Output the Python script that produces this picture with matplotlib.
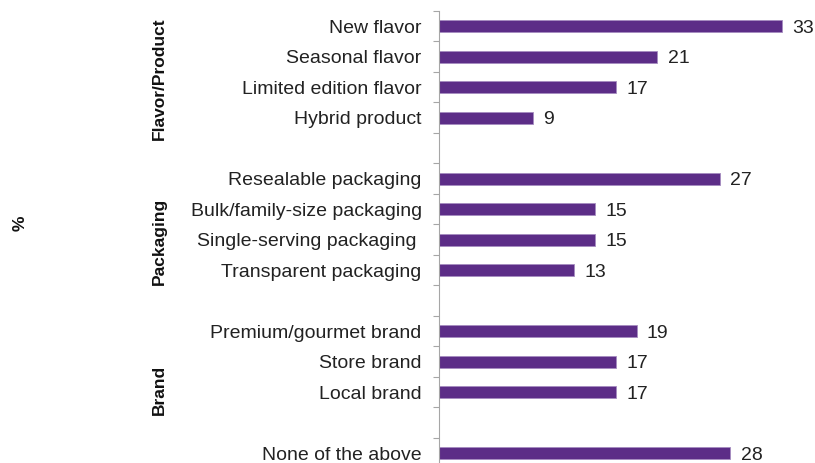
import matplotlib.pyplot as plt
from matplotlib.transforms import blended_transform_factory

plt.rcParams['font.family'] = ['Liberation Sans', 'DejaVu Sans']

# survey data, grouped
groups = ["Flavor/Product", "Packaging", "Brand", ""]
group_items = [
    ["New flavor", "Seasonal flavor", "Limited edition flavor", "Hybrid product"],
    ["Resealable packaging", "Bulk/family-size packaging",
     "Single-serving packaging ", "Transparent packaging"],
    ["Premium/gourmet brand", "Store brand", "Local brand"],
    ["None of the above"],
]
group_values = [
    [33, 21, 17, 9],
    [27, 15, 15, 13],
    [19, 17, 17],
    [28],
]

bar_color = "#5c2d87"
axis_color = "#a6a6a6"

# one empty slot between groups
labels, values, slots, group_mid = [], [], [], []
pos = 0
for names, vals in zip(group_items, group_values):
    start = pos
    for n, v in zip(names, vals):
        labels.append(n)
        values.append(v)
        slots.append(pos)
        pos += 1
    group_mid.append((start + pos - 1) / 2)
    pos += 1

W, H = 815, 463
fig = plt.figure(figsize=(W / 100, H / 100), dpi=100)
ax = fig.add_axes([439 / W, 0, 1 - 439 / W, 1 - 11 / H])

ax.barh(slots, values, height=0.4, color=bar_color, edgecolor="#a58cc0", linewidth=0.6)
ax.set_xlim(0, (W - 439) / 10.4)
ax.set_ylim(14.32, -0.5)

for s, v in zip(slots, values):
    ax.text(v + 1.0, s, str(v), va="center_baseline", ha="left", fontsize=14, color="#222222")

# ticks at slot boundaries, labels at bar centres
ax.set_yticks([s - 0.5 for s in range(15)])
ax.set_yticklabels([])
ax.set_yticks(slots, minor=True)
ax.set_yticklabels(labels, minor=True, fontsize=14, color="#222222")
ax.tick_params(axis="y", which="major", length=4, color=axis_color, direction="out")
ax.tick_params(axis="y", which="minor", length=0, pad=12.5)
ax.set_xticks([])

for side in ["top", "right", "bottom"]:
    ax.spines[side].set_visible(False)
ax.spines["left"].set_color(axis_color)
ax.spines["left"].set_linewidth(0.8)

# group names on the left
trans = blended_transform_factory(fig.transFigure, ax.transData)
offsets = [0.23, 0.56, 0.93]
for g, m, off in zip(groups[:3], group_mid[:3], offsets):
    ax.text(159 / W, m + off, g, transform=trans, rotation=90, ha="center", va="center",
            fontsize=12.5, fontweight="bold", color="#111111")

fig.text(20 / W, 1 - 223 / H, "%", rotation=90, ha="center", va="center",
         fontsize=12.5, fontweight="bold", color="#111111")

fig.savefig("out.png", dpi=100)
